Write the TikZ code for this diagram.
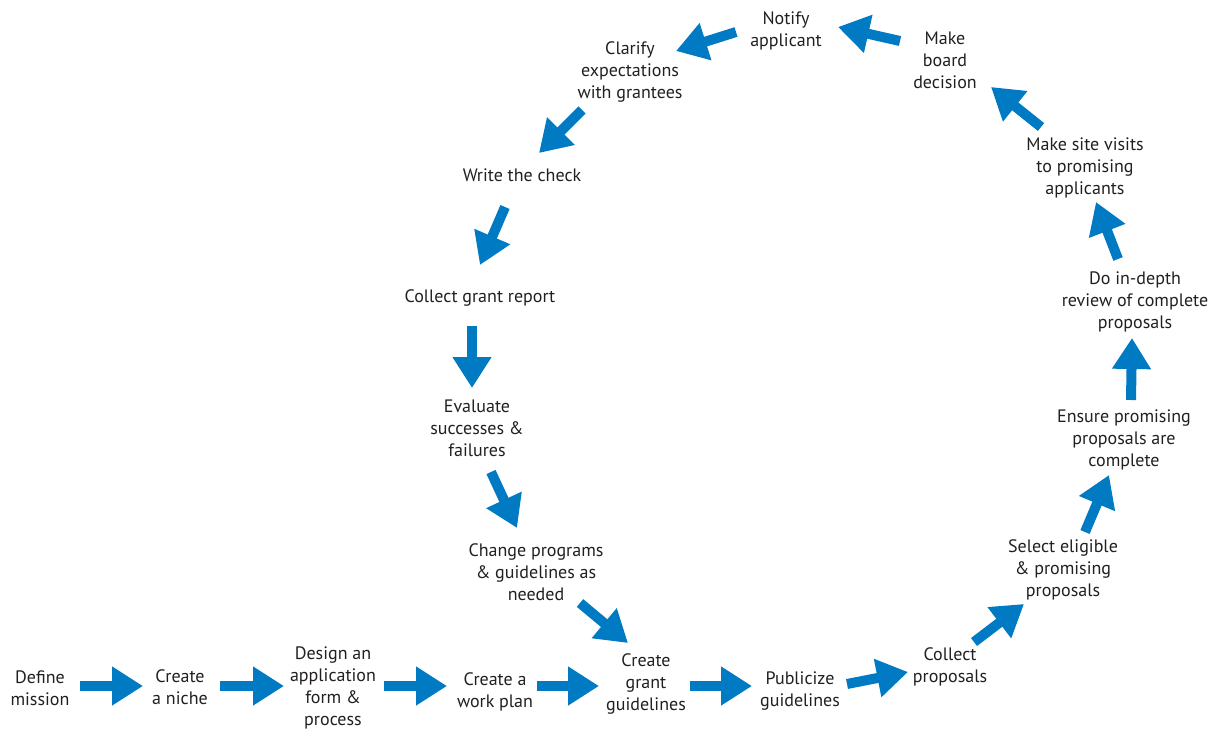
\documentclass[tikz,border=0pt]{standalone}
\usepackage{fontspec}
\setmainfont{PT Sans}
\usepackage{xcolor}
\usepackage{tikz}
\usetikzlibrary{arrows.meta,positioning}
\definecolor{grantblue}{RGB}{0,122,194}
\definecolor{granttext}{RGB}{35,31,32}
\tikzset{
	>={Triangle[length=31pt,width=37pt]},
	barrow/.style={arrows=->, draw=grantblue, line width=10pt},
}
\tikzstyle{stage} = [align=center, text=granttext, inner sep=0pt, yshift=-1.5pt, font=\fontsize{18}{22}\selectfont]

\begin{document}
\begin{tikzpicture}[x=1pt,y=-1pt]
	\useasboundingbox (0,0) rectangle (1212,731);
	
	% bottom row
	\node[stage] (mission) at (40,687) {Define\\mission};
	\node[stage] (niche) at (180,686) {Create\\a niche};
	\node[stage] (form) at (333,686) {Design an\\application\\form \&\\process};
	\node[stage] (plan) at (495,690) {Create a\\work plan};
	\node[stage] (guide) at (646,682) {Create\\grant\\guidelines};
	\node[stage] (publ) at (800,690) {Publicize\\guidelines};
	
	% right side going up
	\node[stage] (collp) at (950,665) {Collect\\proposals};
	\node[stage] (select) at (1063,568) {Select eligible\\\& promising\\proposals};
	\node[stage] (ensure) at (1124,438) {Ensure promising\\proposals are\\complete};
	\node[stage] (review) at (1135,300) {Do in-depth\\review of complete\\proposals};
	\node[stage] (visit) at (1085,166) {Make site visits\\to promising\\applicants};
	\node[stage] (board) at (945,59) {Make\\board\\decision};
	
	% top and left side going down
	\node[stage] (notify) at (786,29) {Notify\\applicant};
	\node[stage] (clarify) at (630,70) {Clarify\\expectations\\with grantees};
	\node[stage] (check) at (522,174) {Write the check};
	\node[stage] (report) at (480,296) {Collect grant report};
	\node[stage] (eval) at (477,427) {Evaluate\\successes \&\\failures};
	\node[stage] (change) at (536,571) {Change programs\\\& guidelines as\\needed};
	
	% arrow ends
	\coordinate (t1) at (80,686);    \coordinate (h1) at (143,686);
	\coordinate (t2) at (220,686);   \coordinate (h2) at (284,686);
	\coordinate (t3) at (384,686);   \coordinate (h3) at (447,686);
	\coordinate (t4) at (537,686);   \coordinate (h4) at (599,686);
	\coordinate (t5) at (690,686);   \coordinate (h5) at (752,686);
	\coordinate (t6) at (847,684);   \coordinate (h6) at (908,672);
	\coordinate (t7) at (974,642);   \coordinate (h7) at (1024,604);
	\coordinate (t8) at (1085,532);  \coordinate (h8) at (1109,475);
	\coordinate (t9) at (1131,400);  \coordinate (h9) at (1132,338);
	\coordinate (t10) at (1118,259); \coordinate (h10) at (1096,202);
	\coordinate (t11) at (1041,127); \coordinate (h11) at (991,87);
	\coordinate (t12) at (900,41);   \coordinate (h12) at (838,27);
	\coordinate (t13) at (736,32);   \coordinate (h13) at (676,51);
	\coordinate (t14) at (582,110);  \coordinate (h14) at (539,153);
	\coordinate (t15) at (505,207);  \coordinate (h15) at (480,265);
	\coordinate (t16) at (472,326);  \coordinate (h16) at (472,388);
	\coordinate (t17) at (491,472);  \coordinate (h17) at (517,528);
	\coordinate (t18) at (580,603);  \coordinate (h18) at (628,643);
	
	\foreach \i in {1,...,18}
	\draw[barrow] (t\i) -- (h\i);
\end{tikzpicture}
\end{document}
